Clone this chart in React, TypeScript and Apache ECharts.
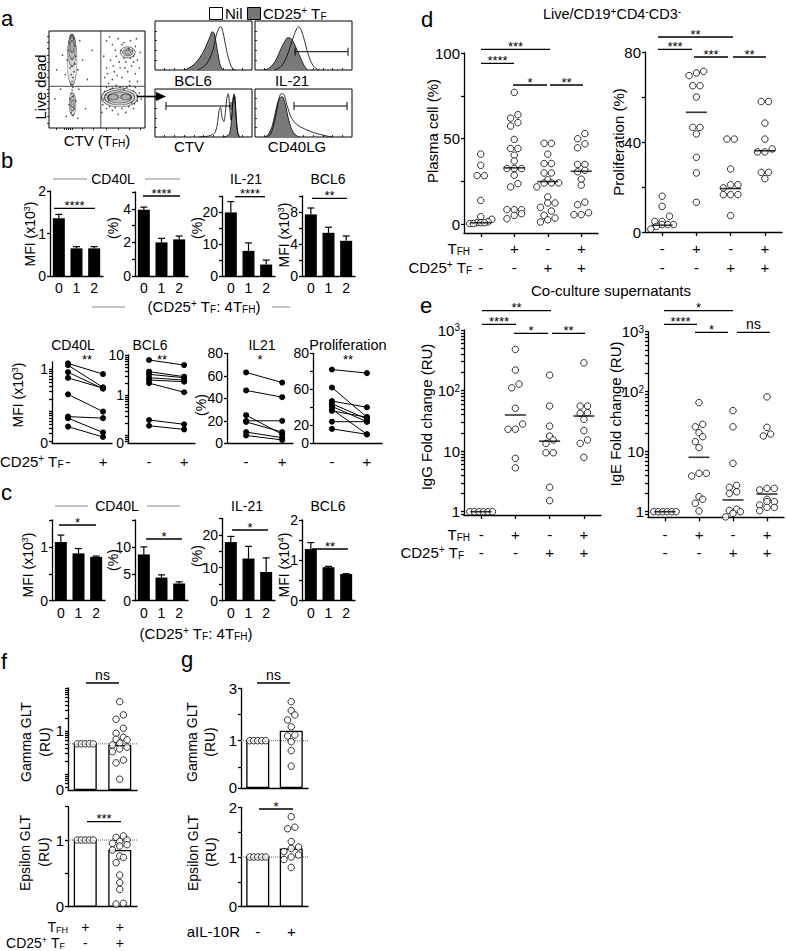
import { useEffect, useRef } from 'react';
import * as echarts from 'echarts';

const FONT = '"Liberation Sans", Arial, Helvetica, sans-serif';

// ================= Panel a (flow) =================
const histBcl6Nil = [[44,0],[48,4],[52,10],[56,22],[60,42],[63,70],[66,86],[68,88],[70,78],[72,58],[74,38],[76,22],[78,10],[80,3],[83,0]];
const histBcl6Treg = [[30,0],[34,3],[38,8],[42,15],[46,25],[50,38],[54,55],[57,70],[59,78],[61,75],[63,55],[65,32],[67,12],[69,3],[71,0]];
const histIl21Nil = [[20,0],[24,3],[28,10],[32,24],[36,46],[40,70],[43,84],[45,88],[48,80],[51,60],[54,38],[57,20],[60,9],[63,3],[67,0]];
const histIl21Treg = [[10,0],[14,3],[18,10],[22,22],[26,40],[30,56],[34,66],[37,64],[40,55],[44,38],[48,20],[51,8],[54,0]];
const histCtvNil = [[45,0],[52,1],[58,4],[62,10],[64.5,30],[66,55],[67.5,62],[69,42],[71,32],[72.5,50],[74,80],[75.5,90],[77,60],[78.5,35],[80,65],[81.5,90],[83,62],[84.5,20],[86,4],[88,0]];
const histCtvTreg = [[70,0],[74,2],[77,8],[79,40],[80.5,82],[82,86],[83.5,50],[85,12],[87,0]];
const histCd40lgNil = [[12,0],[16,6],[20,30],[24,72],[27,90],[30,88],[33,66],[37,42],[41,30],[46,22],[52,16],[58,11],[64,7],[70,4],[76,1],[80,0]];
const histCd40lgTreg = [[10,0],[14,6],[18,25],[22,60],[25,80],[28,84],[31,70],[34,42],[38,15],[42,4],[46,0]];

const flowQuadX = 54;
const flowQuadY = 43;
// [x, y, ellipse width px, ellipse height px]
const flowContours = [
  [24,70,10,50],[24,80,8,32],[24,82,6,22],[24,84,4,12],
  [24.5,24.5,7,22],[24.5,25,5,14],[24.5,25,3,7],
  [73.5,31.5,36,19],[73.5,31.5,30,15],[73.5,31.5,24,11],[67,32,10,6],[80,32,10,6],
  [82,78,15,11],[82,78,10,7],[82,78,6,4],
];
const flowDots = [
  [22,95],[26,92],[21,88],[27,85],[20,80],[28,74],[19,70],[27,66],[22,62],[26,58],[23,55],[25,52],[24,48],[23,45],[25,42],[24,39],[23,36],[25,33],[22,30],[26,20],[23,16],[25,13],[21,24],[28,28],
  [60,90],[66,86],[72,92],[78,88],[85,90],[90,84],[88,74],[92,70],[75,80],[70,74],[64,70],[80,68],[86,64],[74,62],[68,58],[60,62],[82,58],[90,56],[58,52],[66,50],[76,52],[84,48],[62,46],[94,62],[78,72],[83,82],
  [63,94],[69,80],[73,68],[79,62],[87,80],[91,92],[95,78],[57,74],[61,56],[71,54],[88,68],[76,86],[85,72],[92,48],[67,64],
  [58,38],[62,28],[60,20],[66,18],[72,14],[80,16],[88,20],[92,28],[94,36],[90,42],[84,44],[70,44],[64,40],[57,30],[86,26],[78,40],
  [56,24],[59,34],[63,22],[69,21],[76,20],[83,22],[89,25],[92,33],[88,38],[81,42],[74,42],[66,41],[60,42],[96,30],[55,16],
  [8,60],[12,40],[6,30],[14,75],[35,70],[40,50],[38,20],[45,80],[32,90],[30,60],[17,55],[31,40],[18,12],[30,10],
];

// ================= Panel b =================
const ratioCats = ['0', '1', '2'];
const bCd40lMfi = [1.36, 0.65, 0.65];
const bCd40lMfiErr = [1.45, 0.69, 0.69];
const bCd40lPct = [3.95, 2.0, 2.18];
const bCd40lPctErr = [4.1, 2.24, 2.38];
const bIl21Pct = [20, 7.9, 3.6];
const bIl21PctErr = [23.4, 10.4, 5.0];
const bBcl6Mfi = [7.7, 5.4, 4.4];
const bBcl6MfiErr = [8.5, 6.1, 5.0];

const pairCats = ['-', '+'];
const pCd40lPre = [1.39, 1.26, 0.86, 0.63, 0.257, 0.076, 0.07, 0.044];
const pCd40lPost = [0.775, 0.376, 0.35, 0.36, 0.1, 0.07, 0.032, 0.025];
const pBcl6Pre = [7.5, 3.83, 3.29, 2.7, 2.37, 1.98, 0.237, 0.17];
const pBcl6Post = [5.6, 2.87, 2.7, 2.37, 2.15, 1.17, 0.185, 0.138];
const pIl21Pre = [63, 47, 25, 20, 19, 10, 7];
const pIl21Post = [54, 41, 8, 20, 10, 5, 3];
const pProlPre = [82, 62, 47, 44, 41, 38, 36, 24, 16];
const pProlPost = [78, 29, 40, 27, 24, 10, 29, 24, 10];
const prolTickLabels: Record<number, string> = { 0: '0', 20: '20', 60: '60', 100: '80' };

// ================= Panel c =================
const cCd40lMfi = [1.09, 0.88, 0.815];
const cCd40lMfiErr = [1.22, 0.97, 0.83];
const cCd40lPct = [8.6, 4.3, 3.2];
const cCd40lPctErr = [10, 4.8, 3.5];
const cIl21Pct = [17.8, 12.8, 8.7];
const cIl21PctErr = [19.5, 16.5, 13];
const cBcl6Mfi = [1.28, 0.83, 0.66];
const cBcl6MfiErr = [1.44, 0.85, 0.67];

// ================= Panel d =================
const tfhRow = ['-', '+', '-', '+'];
const tregRow = ['-', '-', '+', '+'];
const plasmaNone = [41, 34.5, 28.5, 28.5, 14, 4.5, 3, 1.5, 1, 1, 1, 0.5, 0.5];
const plasmaTfh = [77, 64, 62, 59.4, 57.4, 49.6, 44.3, 44.3, 40.4, 37, 32.6, 32.6, 32.6, 28.7, 23.8, 21.9, 8.6, 8.6, 8.6, 6.3, 5.3, 3.3];
const plasmaTreg = [47.3, 47.3, 41, 35.5, 35.5, 30, 30, 26, 24.2, 24.2, 24.2, 21.9, 16, 12.5, 12.5, 10, 7.8, 5.3, 3.7, 2.7, 1.4];
const plasmaBoth = [53, 50, 47, 44.7, 35, 35, 31.6, 30.7, 26.4, 22.9, 13, 11.5, 6.8, 5.7, 5.7];
const plasmaMedian = [1, 33, 25, 31];
const prolNone = [15.9, 11.4, 7, 4.7, 4.7, 3.3, 3.3, 3.3, 2.5, 1.3];
const prolTfh = [71.4, 70.7, 69.5, 65, 65, 60, 46.5, 46.5, 43.6, 33.2, 26.2, 13.2];
const prolTreg = [41.3, 41.3, 28, 21, 21, 19.6, 16.6, 16.6, 16.6, 7.3];
const prolBoth = [58, 58, 48.4, 41.3, 36.9, 35.6, 35.6, 26.5, 26.5, 23.7];
const prolMedian = [3, 53.2, 19.3, 36.1];

// ================= Panel e =================
const iggNone = [1, 1, 1, 1, 1, 1];
const iggTfh = [478, 218, 128, 111, 51, 28, 23, 23, 7.6, 5.3];
const iggTreg = [180, 55.5, 25.9, 17.7, 15.3, 13.4, 9.4, 9.4, 2.53, 1.52];
const iggBoth = [287, 55.5, 55.5, 43, 42, 33.5, 21.8, 15.3, 13.4, 7.9];
const iggMedian = [1, 39.5, 14.6, 38];
const igeNone = [1, 1, 1, 1, 1, 1];
const igeTfh = [65.6, 28.6, 26, 20.7, 17.8, 14.7, 11.7, 4.36, 4.36, 3.93, 1.78, 1.61, 1.38, 1.03];
const igeTreg = [48.3, 26, 6.4, 2.75, 2.55, 2.15, 2.02, 1.1, 1.05, 1.0, 0.94, 0.82];
const igeBoth = [82, 25.5, 19.7, 18.3, 2.45, 2.45, 2.3, 1.61, 1.47, 1.47, 1.29, 1.18, 1.18, 1.04];
const igeMedian = [1, 8.07, 1.57, 1.97];

// ================= Panel f / g =================
const fGammaBars = [0.5, 0.47];
const fGammaNil = [0.5, 0.5, 0.5, 0.5, 0.5];
const fGammaTreg = [4.8, 2.36, 1.87, 1.15, 0.88, 0.71, 0.64, 0.62, 0.52, 0.47, 0.42, 0.38, 0.33, 0.21, 0.18, 0.075];
const fEpsBars = [1, 0.85];
const fEpsNil = [1, 1, 1, 1, 1];
const fEpsTreg = [1.06, 1.04, 1.0, 0.98, 0.95, 0.93, 0.91, 0.85, 0.76, 0.74, 0.66, 0.475, 0.36, 0.26, 0.05, 0.04];
const gGammaBars = [1, 1.38];
const gGammaNil = [1, 1, 1, 1, 1];
const gGammaAb = [2.49, 2.15, 1.98, 1.79, 1.53, 1.22, 1.18, 0.96, 0.62, 0.03];
const gEpsBars = [1, 1.17];
const gEpsNil = [1, 1, 1, 1, 1];
const gEpsAb = [1.81, 1.6, 1.57, 1.31, 1.2, 1.17, 1.11, 1.04, 1.0, 0.95, 0.79];
const fRowTfh = ['+', '+'];
const fRowTreg = ['-', '+'];
const gRowAb = ['-', '+'];

// ================= helpers =================
type Grid = { left: number; top: number; width: number; height: number };
const DIAM = 6.5;
const AXL = { color: '#000', width: 1.3 };

const richFor = (fs: number) => ({
  sub: { fontSize: Math.round(fs * 0.66), verticalAlign: 'bottom', lineHeight: Math.round(fs * 0.75), fontFamily: FONT, fill: '#000', color: '#000' },
  sup: { fontSize: Math.round(fs * 0.66), verticalAlign: 'top', lineHeight: Math.round(fs * 0.75), fontFamily: FONT, fill: '#000', color: '#000' },
});

function logTicks(min: number, max: number) {
  const out: number[] = [];
  for (let e = -3; e <= 4; e++) {
    for (let d = 1; d <= 9; d++) {
      const v = +(d * Math.pow(10, e)).toPrecision(6);
      if (v >= min && v <= max) out.push(v);
    }
  }
  return out;
}

function toPxFn(log: boolean, min: number, max: number, h: number) {
  if (log) {
    const a = Math.log10(min), b = Math.log10(max);
    return (v: number) => ((Math.log10(v) - a) / (b - a)) * h;
  }
  return (v: number) => ((v - min) / (max - min)) * h;
}

function swarm(vals: number[], toPx: (v: number) => number, diam: number, maxW: number) {
  const idx = vals.map((_, i) => i).sort((a, b) => vals[a] - vals[b]);
  const off = new Array(vals.length).fill(0);
  let i = 0;
  while (i < idx.length) {
    const y0 = toPx(vals[idx[i]]);
    let j = i + 1;
    while (j < idx.length && toPx(vals[idx[j]]) - y0 < diam * 0.85) j++;
    const n = j - i;
    const sp = n > 1 ? Math.min(diam + 0.8, maxW / (n - 1)) : 0;
    for (let k = 0; k < n; k++) off[idx[i + k]] = (k - (n - 1) / 2) * sp;
    i = j;
  }
  return off;
}

const errRender = (_p: any, api: any) => {
  const x = api.value(0), v = api.value(1), e = api.value(2);
  const p0 = api.coord([x, v]);
  const p1 = api.coord([x, e]);
  const st = { stroke: '#000', lineWidth: 1.2 };
  return {
    type: 'group',
    children: [
      { type: 'line', shape: { x1: p0[0], y1: p0[1], x2: p1[0], y2: p1[1] }, style: st },
      { type: 'line', shape: { x1: p1[0] - 3.5, y1: p1[1], x2: p1[0] + 3.5, y2: p1[1] }, style: st },
    ],
  };
};

function buildOption() {
  const grid: any[] = [];
  const xAxis: any[] = [];
  const yAxis: any[] = [];
  const series: any[] = [];
  const graphic: any[] = [];

  const add = (g: Grid, x: any, y: any, border = false) => {
    const i = grid.length;
    grid.push({ left: g.left, top: g.top, width: g.width, height: g.height, show: border, borderColor: '#000', borderWidth: 1, backgroundColor: 'rgba(0,0,0,0)', containLabel: false, outerBoundsMode: 'none' });
    xAxis.push({ gridIndex: i, ...x });
    yAxis.push({ gridIndex: i, ...y });
    return i;
  };
  const on = (i: number, s: any) => series.push({ xAxisIndex: i, yAxisIndex: i, silent: true, ...s });

  const yAx = (type: 'value' | 'log', min: number, max: number, ticks: number[], labels: number[], fmt?: (v: number) => string, fs = 14) => ({
    type, min, max,
    ...(type === 'log' ? { logBase: 10 } : {}),
    axisLine: { show: true, onZero: false, lineStyle: AXL },
    axisTick: { show: true, length: 3, lineStyle: AXL, customValues: ticks },
    axisLabel: { color: '#000', fontSize: fs, fontFamily: FONT, margin: 4, customValues: labels, formatter: fmt ?? ((v: number) => String(v)), rich: richFor(fs), showMinLabel: true, showMaxLabel: true, hideOverlap: false },
    splitLine: { show: false },
  });

  // ---------- graphic helpers ----------
  const T = (x: number, y: number, text: string, o: any = {}) => {
    const fs = o.fs ?? 14;
    graphic.push({
      type: 'text', x, y, rotation: o.rot ? Math.PI / 2 : 0, silent: true, z: 100,
      style: { text, fontSize: fs, fontFamily: FONT, fill: '#000', align: o.align ?? 'center', verticalAlign: 'middle', lineHeight: Math.round(fs * 1.05), rich: richFor(fs) },
    });
  };
  const L = (x1: number, y1: number, x2: number, y2: number, o: any = {}) => {
    graphic.push({ type: 'line', silent: true, z: 100, shape: { x1, y1, x2, y2 }, style: { stroke: o.c ?? '#000', lineWidth: o.w ?? 1.3 } });
  };
  const SIG = (x1: number, x2: number, y: number, label: string) => {
    L(x1, y, x2, y);
    if (label === 'ns') T((x1 + x2) / 2, y - 8, label, { fs: 14 });
    else T((x1 + x2) / 2, y - 3, label, { fs: 13 });
  };
  const GATE = (x1: number, x2: number, y: number) => {
    L(x1, y, x2, y, { w: 1 });
    L(x1, y - 4, x1, y + 4, { w: 1 });
    L(x2, y - 4, x2, y + 4, { w: 1 });
  };

  // ================= Panel a =================
  const histPanel = (g: Grid, treg: number[][], nil: number[][]) => {
    const i = add(g,
      { type: 'value', min: 0, max: 100, axisLine: { show: false, onZero: false }, axisTick: { show: true, inside: true, length: 2, lineStyle: { color: '#000', width: 0.8 }, customValues: [10, 20, 30, 40, 50, 60, 70, 80, 90] }, axisLabel: { show: false }, splitLine: { show: false } },
      { type: 'value', min: 0, max: 100, axisLine: { show: false, onZero: false }, axisTick: { show: true, inside: true, length: 2, lineStyle: { color: '#000', width: 0.8 }, customValues: [20, 40, 60, 80] }, axisLabel: { show: false }, splitLine: { show: false } },
      true);
    on(i, { type: 'line', data: treg, smooth: 0.35, symbol: 'none', lineStyle: { color: '#000', width: 0.8 }, areaStyle: { color: '#7a7a7a', opacity: 1 }, z: 2 });
    on(i, { type: 'line', data: nil, smooth: 0.35, symbol: 'none', lineStyle: { color: '#000', width: 0.8 }, z: 3 });
  };
  histPanel({ left: 155, top: 21, width: 97, height: 49 }, histBcl6Treg, histBcl6Nil);
  histPanel({ left: 255, top: 21, width: 97, height: 49 }, histIl21Treg, histIl21Nil);
  histPanel({ left: 155, top: 89, width: 97, height: 48 }, histCtvTreg, histCtvNil);
  histPanel({ left: 255, top: 89, width: 97, height: 48 }, histCd40lgTreg, histCd40lgNil);

  {
    const ia = add({ left: 49, top: 31, width: 96, height: 97 },
      { type: 'value', min: 0, max: 100, axisLine: { show: false, onZero: false }, axisTick: { show: true, length: 2, lineStyle: { color: '#000', width: 0.8 }, customValues: [8, 16, 18, 20, 22, 24, 35, 46, 60, 72, 84, 95] }, axisLabel: { show: false }, splitLine: { show: false } },
      { type: 'value', min: 0, max: 100, axisLine: { show: false, onZero: false }, axisTick: { show: true, length: 2, lineStyle: { color: '#000', width: 0.8 }, customValues: [5, 12, 20, 28, 33, 36, 40, 52, 60, 68, 75, 82, 88, 95] }, axisLabel: { show: false }, splitLine: { show: false } },
      true);
    on(ia, { type: 'line', data: [[flowQuadX, 0], [flowQuadX, 100]], symbol: 'none', lineStyle: { color: '#333', width: 0.9 } });
    on(ia, { type: 'line', data: [[0, flowQuadY], [100, flowQuadY]], symbol: 'none', lineStyle: { color: '#333', width: 0.9 } });
    on(ia, { type: 'scatter', data: flowDots, symbol: 'circle', symbolSize: 1.6, itemStyle: { color: '#222' }, z: 2 });
    on(ia, { type: 'scatter', data: flowContours, symbol: 'circle', symbolSize: (v: number[]) => [v[2], v[3]], itemStyle: { color: 'rgba(0,0,0,0.12)', borderColor: '#333', borderWidth: 0.8 }, z: 3 });
  }
  L(137, 96.5, 158, 96.5, { w: 1.6 });
  graphic.push({ type: 'polygon', silent: true, z: 100, shape: { points: [[156, 92], [166, 96.5], [156, 101]] }, style: { fill: '#000' } });
  GATE(295, 348, 51.7);
  GATE(166, 231, 106);
  GATE(294, 347, 106);
  graphic.push({ type: 'rect', silent: true, z: 100, shape: { x: 209.5, y: 7.5, width: 13, height: 12 }, style: { fill: '#fff', stroke: '#000', lineWidth: 1 } });
  graphic.push({ type: 'rect', silent: true, z: 100, shape: { x: 247.5, y: 7.5, width: 13, height: 12 }, style: { fill: '#777', stroke: '#000', lineWidth: 1 } });
  T(225, 13.5, 'Nil', { fs: 15, align: 'left' });
  T(263, 13.5, 'CD25{sup|+} T{sub|F}', { fs: 15, align: 'left' });
  T(193, 80, 'BCL6', { fs: 15 });
  T(292, 80, 'IL-21', { fs: 15 });
  T(189, 146, 'CTV', { fs: 15 });
  T(297, 146, 'CD40LG', { fs: 15 });
  T(97, 140, 'CTV (T{sub|FH})', { fs: 15 });
  T(40, 87, 'Live dead', { fs: 15, rot: true });

  // ================= bar panels (b, c) =================
  const barPanel = (g: Grid, max: number, ticks: number[], labels: number[], vals: number[], errs: number[]) => {
    const i = add(g,
      { type: 'category', data: ratioCats, axisLine: { show: true, onZero: false, lineStyle: AXL }, axisTick: { show: false }, axisLabel: { color: '#000', fontSize: 14, fontFamily: FONT, margin: 5, lineHeight: 14 }, splitLine: { show: false } },
      yAx('value', 0, max, ticks, labels));
    on(i, { type: 'bar', data: vals, barWidth: 12, itemStyle: { color: '#000' }, z: 2 });
    on(i, { type: 'custom', data: vals.map((v, k) => [k, v, errs[k]]), renderItem: errRender, z: 3 });
  };
  barPanel({ left: 50, top: 191, width: 53, height: 85 }, 2, [0, 1, 2], [0, 1, 2], bCd40lMfi, bCd40lMfiErr);
  barPanel({ left: 135, top: 192, width: 53, height: 84 }, 5, [0, 1, 2, 3, 4, 5], [0, 2, 4], bCd40lPct, bCd40lPctErr);
  barPanel({ left: 222, top: 196.5, width: 53, height: 79.5 }, 25, [0, 5, 10, 15, 20, 25], [0, 10, 20], bIl21Pct, bIl21PctErr);
  barPanel({ left: 302, top: 196, width: 53, height: 80 }, 10, [0, 2, 4, 6, 8, 10], [0, 4, 8], bBcl6Mfi, bBcl6MfiErr);
  barPanel({ left: 52, top: 520, width: 53, height: 80.7 }, 1.5, [0, 0.5, 1, 1.5], [0, 1], cCd40lMfi, cCd40lMfiErr);
  barPanel({ left: 135, top: 520, width: 53, height: 80.7 }, 15, [0, 5, 10, 15], [0, 5, 10], cCd40lPct, cCd40lPctErr);
  barPanel({ left: 222, top: 518.3, width: 53, height: 82.4 }, 25, [0, 5, 10, 15, 20, 25], [0, 10, 20], cIl21Pct, cIl21PctErr);
  barPanel({ left: 302, top: 520, width: 53, height: 80.7 }, 2, [0, 0.5, 1, 1.5, 2], [0, 1, 2], cBcl6Mfi, cBcl6MfiErr);

  T(113, 179, 'CD40L');
  L(53, 179, 87, 179, { c: '#888', w: 1 });
  L(145, 179, 180, 179, { c: '#888', w: 1 });
  T(246, 179, 'IL-21');
  T(328, 179, 'BCL6');
  SIG(54, 95, 208.3, '****');
  SIG(143, 180, 196, '****');
  SIG(235, 265, 196.7, '****');
  SIG(312, 347, 198.3, '**');
  T(30, 234, 'MFI (x10{sup|3})', { rot: true });
  T(113, 228, '(%)', { rot: true });
  T(197, 228, '(%)', { rot: true });
  T(284, 235, 'MFI (x10{sup|3})', { rot: true });
  T(204, 306, '(CD25{sup|+} T{sub|F}: 4T{sub|FH})', { fs: 15 });
  L(92, 307, 125, 307, { c: '#888', w: 1 });
  L(272, 307, 290, 307, { c: '#888', w: 1 });

  T(117, 506, 'CD40L');
  L(55, 506, 88, 506, { c: '#888', w: 1 });
  L(147, 506, 180, 506, { c: '#888', w: 1 });
  T(247, 506, 'IL-21');
  T(328, 506, 'BCL6');
  SIG(59, 96, 525, '*');
  SIG(146, 182, 539, '*');
  SIG(232, 268, 530, '*');
  SIG(312, 348, 549, '**');
  T(28, 565, 'MFI (x10{sup|3})', { rot: true });
  T(113, 560, '(%)', { rot: true });
  T(197, 556, '(%)', { rot: true });
  T(284, 565, 'MFI (x10{sup|4})', { rot: true });
  T(196, 633, '(CD25{sup|+} T{sub|F}: 4T{sub|FH})', { fs: 15 });

  // ================= b paired panels =================
  const pairPanel = (g: Grid, xMin: number, xMax: number, yOpt: any, pre: number[], post: number[]) => {
    const i = add(g,
      { type: 'value', min: xMin, max: xMax, axisLine: { show: true, onZero: false, lineStyle: AXL }, axisTick: { show: false }, axisLabel: { show: false }, splitLine: { show: false } },
      yOpt);
    pre.forEach((p, k) => on(i, { type: 'line', data: [[0, p], [1, post[k]]], symbol: 'circle', symbolSize: 6, itemStyle: { color: '#000' }, lineStyle: { color: '#000', width: 1 }, z: 3 }));
    const xp = (v: number) => g.left + ((v - xMin) / (xMax - xMin)) * g.width;
    pairCats.forEach((c, k) => T(xp(k), 461, c, { fs: 15 }));
  };
  const cdMin = 0.018;
  pairPanel({ left: 52, top: 362, width: 60, height: 81 }, -0.457, 1.257,
    yAx('log', cdMin, 1.5, logTicks(cdMin, 1.5), [cdMin * 1.01, 1], (v: number) => (v < 0.05 ? '0' : String(v))),
    pCd40lPre, pCd40lPost);
  const bcMin = 0.063;
  pairPanel({ left: 128, top: 355, width: 67, height: 88 }, -0.6, 1.31,
    yAx('log', bcMin, 10, logTicks(bcMin, 10), [bcMin * 1.01, 1, 10], (v: number) => (v < 0.1 ? '0' : String(v))),
    pBcl6Pre, pBcl6Post);
  pairPanel({ left: 227, top: 353.3, width: 66, height: 90 }, -0.53, 1.3,
    yAx('value', 0, 80, [0, 20, 40, 60, 80], [0, 20, 40, 60, 80]),
    pIl21Pre, pIl21Post);
  pairPanel({ left: 313, top: 353.3, width: 69, height: 90 }, -0.54, 1.43,
    yAx('value', 0, 100, [0, 20, 40, 60, 80, 100], [0, 20, 60, 100], (v: number) => prolTickLabels[Math.round(v)] ?? ''),
    pProlPre, pProlPost);
  T(73, 345, 'CD40L');
  T(150, 345, 'BCL6');
  T(262, 345, 'IL21');
  T(348, 345, 'Proliferation', { fs: 14.5 });
  T(87, 359, '**', { fs: 13 });
  T(162, 359, '**', { fs: 13 });
  T(260, 359, '*', { fs: 13 });
  T(348, 359, '**', { fs: 13 });
  T(18, 395, 'MFI (x10{sup|3})', { rot: true });
  T(201, 405, '(%)', { rot: true });
  T(0, 461, 'CD25{sup|+} T{sub|F}', { fs: 15, align: 'left' });

  // ================= dot panels (d, e) =================
  const dotPanel = (g: Grid, yOpt: any, log: boolean, min: number, max: number, groups: number[][], medians: number[], rowY: number[]) => {
    const i = add(g,
      { type: 'value', min: 0, max: 4, axisLine: { show: true, onZero: false, lineStyle: AXL }, axisTick: { show: true, length: 4, lineStyle: AXL, customValues: [0.5, 1.5, 2.5, 3.5] }, axisLabel: { show: false }, splitLine: { show: false } },
      yOpt);
    const toPx = toPxFn(log, min, max, g.height);
    const catW = g.width / 4;
    const pts: number[][] = [];
    groups.forEach((vals, k) => {
      const off = swarm(vals, toPx, DIAM, catW * 0.66);
      vals.forEach((v, j) => pts.push([k + 0.5 + off[j] / catW, v]));
    });
    on(i, { type: 'scatter', data: pts, symbol: 'circle', symbolSize: DIAM, clip: false, itemStyle: { color: '#fff', borderColor: '#000', borderWidth: 1 }, z: 3 });
    on(i, { type: 'scatter', data: medians.map((m, k) => [k + 0.5, m]), symbol: 'rect', symbolSize: [21, 1.6], clip: false, itemStyle: { color: '#000' }, z: 4 });
    for (let k = 0; k < 4; k++) {
      const cx = g.left + (k + 0.5) * catW;
      T(cx, rowY[0], tfhRow[k], { fs: 15 });
      T(cx, rowY[1], tregRow[k], { fs: 15 });
    }
  };
  dotPanel({ left: 464, top: 53, width: 134, height: 180 },
    yAx('value', -5, 100, [0, 25, 50, 75, 100], [0, 50, 100], undefined, 15),
    false, -5, 100, [plasmaNone, plasmaTfh, plasmaTreg, plasmaBoth], plasmaMedian, [248, 267]);
  dotPanel({ left: 645, top: 52, width: 137, height: 180 },
    yAx('value', 0, 80, [0, 20, 40, 60, 80], [0, 40, 80], undefined, 15),
    false, 0, 80, [prolNone, prolTfh, prolTreg, prolBoth], prolMedian, [248, 267]);
  const decFmt = (v: number) => (v >= 999 ? '10{sup|3}' : v >= 99 ? '10{sup|2}' : v >= 9.9 ? '10' : '1');
  dotPanel({ left: 464, top: 330, width: 137, height: 185 },
    yAx('log', 0.882, 1000, logTicks(0.882, 1000), [1, 10, 100, 1000], decFmt, 15),
    true, 0.882, 1000, [iggNone, iggTfh, iggTreg, iggBoth], iggMedian, [534, 552]);
  dotPanel({ left: 648, top: 331.7, width: 136, height: 185.6 },
    yAx('log', 0.807, 1000, logTicks(0.807, 1000), [1, 10, 100, 1000], decFmt, 15),
    true, 0.807, 1000, [igeNone, igeTfh, igeTreg, igeBoth], igeMedian, [534, 552]);

  T(612, 14, 'Live/CD19{sup|+}CD4{sup|-}CD3{sup|-}', { fs: 14.5 });
  SIG(481, 550, 49.3, '***');
  SIG(481, 514, 63.3, '****');
  SIG(513, 547, 85, '*');
  SIG(550, 583, 85, '**');
  SIG(658, 733, 37, '**');
  SIG(658, 692, 49.3, '***');
  SIG(694, 728, 57, '***');
  SIG(733, 766, 57, '**');
  T(432, 131, 'Plasma cell (%)', { fs: 15, rot: true });
  T(618, 142, 'Proliferation (%)', { fs: 15, rot: true });
  T(470, 248, 'T{sub|FH}', { fs: 15, align: 'right' });
  T(472, 267, 'CD25{sup|+} T{sub|F}', { fs: 15, align: 'right' });

  T(611, 290, 'Co-culture supernatants', { fs: 15 });
  SIG(482, 551, 310.7, '**');
  SIG(482, 516, 324.3, '****');
  SIG(514, 548, 333.3, '*');
  SIG(552, 585, 333.3, '**');
  SIG(664, 733, 310.7, '*');
  SIG(664, 697, 324.3, '****');
  SIG(695, 728, 332.3, '*');
  SIG(737, 770, 332.3, 'ns');
  T(426, 417, 'IgG Fold change (RU)', { fs: 15, rot: true });
  T(615, 414, 'IgE Fold change (RU)', { fs: 15, rot: true });
  T(470, 534, 'T{sub|FH}', { fs: 15, align: 'right' });
  T(464, 552, 'CD25{sup|+} T{sub|F}', { fs: 15, align: 'right' });

  // ================= GLT panels (f, g) =================
  const gltPanel = (g: Grid, yOpt: any, log: boolean, min: number, max: number, bars: number[], groups: number[][], refVal: number) => {
    const i = add(g,
      { type: 'value', min: -0.5, max: 1.5, axisLine: { show: true, onZero: false, lineStyle: AXL }, axisTick: { show: false }, axisLabel: { show: false }, splitLine: { show: false } },
      { ...yOpt, startValue: min });
    on(i, { type: 'bar', data: bars.map((b, k) => [k, b]), barWidth: 23, itemStyle: { color: '#fff', borderColor: '#000', borderWidth: 1.3 }, z: 2 });
    on(i, { type: 'line', data: [[-0.5, refVal], [1.5, refVal]], symbol: 'none', lineStyle: { color: '#666', width: 1, type: 'dotted' }, z: 3 });
    const toPx = toPxFn(log, min, max, g.height);
    const catW = g.width / 2;
    const pts: number[][] = [];
    groups.forEach((vals, k) => {
      const off = swarm(vals, toPx, DIAM, 16);
      vals.forEach((v, j) => pts.push([k + off[j] / catW, v]));
    });
    on(i, { type: 'scatter', data: pts, symbol: 'circle', symbolSize: DIAM, clip: false, itemStyle: { color: '#fff', borderColor: '#000', borderWidth: 1 }, z: 4 });
    return (k: number) => g.left + ((k + 0.5) / 2) * g.width;
  };
  const fgMin = 0.042;
  const fx = gltPanel({ left: 68, top: 688, width: 69, height: 102 },
    yAx('log', fgMin, 10, logTicks(fgMin, 10), [fgMin * 1.01, 1], (v: number) => (v < 0.1 ? '0' : '1'), 15),
    true, fgMin, 10, fGammaBars, [fGammaNil, fGammaTreg], fGammaBars[0]);
  gltPanel({ left: 68, top: 806.7, width: 69, height: 100 },
    yAx('value', 0, 1.5, [0, 0.5, 1, 1.5], [0, 1], undefined, 15),
    false, 0, 1.5, fEpsBars, [fEpsNil, fEpsTreg], 1);
  const ggMin = -0.805;
  const gx = gltPanel({ left: 241, top: 688.3, width: 67, height: 99.7 },
    yAx('value', ggMin, 3, [ggMin, 0, 1, 2, 3], [ggMin + 0.001, 1, 3], (v: number) => (v < -0.5 ? '0' : String(Math.round(v))), 15),
    false, ggMin, 3, gGammaBars, [gGammaNil, gGammaAb], 1);
  gltPanel({ left: 241, top: 807.3, width: 67, height: 99.4 },
    yAx('value', 0, 2, [0, 0.5, 1, 1.5, 2], [0, 1, 2], undefined, 15),
    false, 0, 2, gEpsBars, [gEpsNil, gEpsAb], 1);

  SIG(86, 119, 683, 'ns');
  SIG(87, 121, 821.7, '***');
  SIG(257, 290, 683, 'ns');
  SIG(259, 293, 809, '*');
  T(26, 742, 'Gamma GLT', { rot: true });
  T(45, 742, '(RU)', { rot: true });
  T(25, 853, 'Epsilon GLT', { rot: true });
  T(44, 852, '(RU)', { rot: true });
  T(192, 742, 'Gamma GLT', { rot: true });
  T(210, 742, '(RU)', { rot: true });
  T(193, 853, 'Epsilon GLT', { rot: true });
  T(211, 852, '(RU)', { rot: true });
  T(68, 927, 'T{sub|FH}', { fs: 14, align: 'right' });
  T(65, 943, 'CD25{sup|+} T{sub|F}', { fs: 14, align: 'right' });
  fRowTfh.forEach((s, k) => T(fx(k), 927, s, { fs: 14 }));
  fRowTreg.forEach((s, k) => T(fx(k), 943, s, { fs: 14 }));
  T(240, 931, 'aIL-10R', { fs: 15, align: 'right' });
  gRowAb.forEach((s, k) => T(gx(k), 931, s, { fs: 15 }));

  T(1, 18, 'a', { fs: 22, align: 'left' });
  T(1, 160, 'b', { fs: 22, align: 'left' });
  T(1, 492, 'c', { fs: 22, align: 'left' });
  T(421, 19, 'd', { fs: 22, align: 'left' });
  T(420, 305, 'e', { fs: 22, align: 'left' });
  T(1, 661, 'f', { fs: 22, align: 'left' });
  T(181, 659, 'g', { fs: 22, align: 'left' });

  return {
    animation: false,
    backgroundColor: '#fff',
    textStyle: { fontFamily: FONT },
    grid, xAxis, yAxis, series, graphic,
  };
}

export default function App() {
  const ref = useRef<HTMLDivElement>(null);
  useEffect(() => {
    const chart = echarts.init(ref.current!, null, { renderer: 'svg', width: 787, height: 951 });
    chart.setOption(buildOption() as any);
    return () => chart.dispose();
  }, []);
  return <div ref={ref} style={{ position: 'absolute', left: 0, top: 0, width: 787, height: 951, background: '#fff' }} />;
}
